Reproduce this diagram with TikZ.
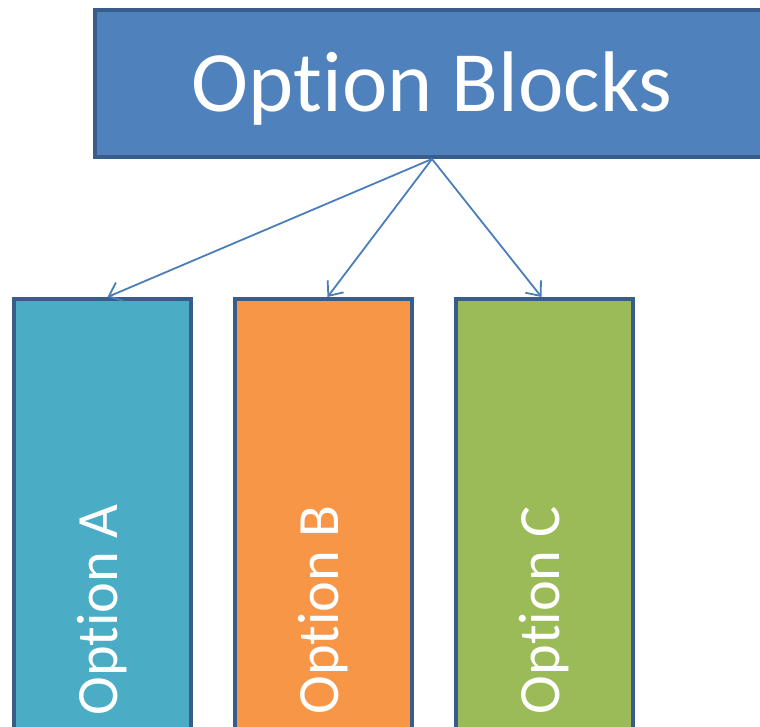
\documentclass[tikz,border=0pt]{standalone}
\usepackage{fontspec}
\setmainfont{Carlito}[Ligatures=NoCommon]
\usepackage{tikz}
\usetikzlibrary{positioning,arrows.meta}

\definecolor{edgeblue}{HTML}{385D8A}
\definecolor{headblue}{HTML}{4F81BD}
\definecolor{linkblue}{HTML}{4A7EBB}
\definecolor{optcyan}{HTML}{4BACC6}
\definecolor{optorange}{HTML}{F79646}
\definecolor{optgreen}{HTML}{9BBB59}

\begin{document}
\begin{tikzpicture}[x=1pt, y=1pt,
    head/.style = {draw=edgeblue, fill=headblue, line width=4pt, text=white,
        minimum width=674pt, minimum height=147pt,
        text height=70pt, text depth=13.6pt,
        font=\fontsize{86}{90}\selectfont},
    col/.style = {draw=edgeblue, line width=4pt, text=white,
        minimum width=177pt, minimum height=622pt, anchor=north,
        font=\fontsize{58.5}{62}\selectfont},
    link/.style = {linkblue, line width=1.8pt,
        -{Straight Barb[length=12pt, width=20pt]}}]
    \clip (0,0) rectangle (760,-726);
    \node[head] (blocks) at (432,-83.5) {Option Blocks};
    \node[col, fill=optcyan] (a) at (102.5,-297) {\rotatebox{90}{Option A}};
    \node[col, fill=optorange] (b) [right = 40pt of a] {\rotatebox{90}{Option B}};
    \node[col, fill=optgreen] (c) [right = 40pt of b] {\rotatebox{90}{Option C}};
    \draw[link] (blocks.south) -- ([xshift=5pt]a.north);
    \draw[link] (blocks.south) -- ([xshift=4pt]b.north);
    \draw[link] (blocks.south) -- ([xshift=-3pt]c.north);
\end{tikzpicture}
\end{document}
